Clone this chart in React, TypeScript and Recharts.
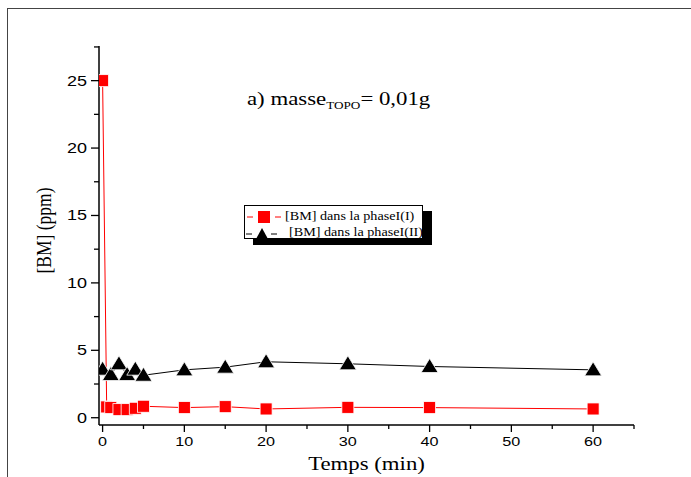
import { LineChart, Line, XAxis, YAxis } from "recharts";

// [BM] in phase I (red squares) and phase II (black triangles), ppm vs minutes
const TIME_I = [0, 0.5, 1, 2, 3, 4, 5, 10, 15, 20, 30, 40, 60];
const BM_I = [25, 0.8, 0.75, 0.6, 0.6, 0.7, 0.85, 0.75, 0.82, 0.65, 0.77, 0.75, 0.65];
const TIME_II = [0, 1, 2, 3, 4, 5, 10, 15, 20, 30, 40, 60];
const BM_II = [3.6, 3.2, 4.0, 3.2, 3.6, 3.15, 3.55, 3.75, 4.15, 4.0, 3.8, 3.55];

const X_MAJOR = [0, 10, 20, 30, 40, 50, 60];
const X_MINOR = [5, 15, 25, 35, 45, 55, 65];
const Y_MAJOR = [0, 5, 10, 15, 20, 25];
const Y_MINOR = [2.5, 7.5, 12.5, 17.5, 22.5, 27.5];

const SERIES_NAMES = ["[BM] dans la phaseI(I)", "[BM] dans la phaseI(II)"];

const phaseI = TIME_I.map((t, i) => ({ t, bm: BM_I[i] }));
const phaseII = TIME_II.map((t, i) => ({ t, bm: BM_II[i] }));

const SANS = "'Liberation Sans', Arial, sans-serif";
const SERIF = "'Liberation Serif', 'Times New Roman', serif";
const RED = "#ff0000";
const STRETCH = 1.2; // the original picture is a bit wider than tall

function XTick({ x, y, payload }: any) {
  const major = X_MAJOR.includes(payload.value);
  return (
    <g>
      <line x1={x} x2={x} y1={y} y2={y + (major ? 7 : 4)} stroke="#000" strokeWidth={1.3} />
      {major && (
        <text
          transform={`translate(${x} ${y + 21}) scale(${STRETCH} 1)`}
          textAnchor="middle"
          fontFamily={SANS}
          fontSize={13.5}
          fill="#000"
        >
          {payload.value}
        </text>
      )}
    </g>
  );
}

function YTick({ x, y, payload }: any) {
  const major = Y_MAJOR.includes(payload.value);
  return (
    <g>
      <line x1={x} x2={x - (major ? 8 : 5)} y1={y} y2={y} stroke="#000" strokeWidth={1.3} />
      {major && (
        <text
          transform={`translate(${x - 12} ${y + 5}) scale(${STRETCH} 1)`}
          textAnchor="end"
          fontFamily={SANS}
          fontSize={15}
          fill="#000"
        >
          {payload.value}
        </text>
      )}
    </g>
  );
}

function SquareDot({ cx, cy, index }: any) {
  return <rect key={`sq-${index}`} x={cx - 6} y={cy - 6} width={12} height={12} fill={RED} stroke="#fff" strokeWidth={0.8} />;
}

function TriangleDot({ cx, cy, index }: any) {
  const pts = `${cx},${cy - 8} ${cx - 8.5},${cy + 6} ${cx + 8.5},${cy + 6}`;
  return <polygon key={`tr-${index}`} points={pts} fill="#000" stroke="#fff" strokeWidth={0.8} />;
}

const stretched = { display: "inline-block", transform: `scaleX(${STRETCH})`, transformOrigin: "left center" } as const;

function LegendBox() {
  return (
    <div
      style={{
        position: "absolute",
        left: 244,
        top: 205,
        background: "#fff",
        border: "1px solid #000",
        boxShadow: "9px 6px 0 #000",
        width: 177,
        height: 32,
        fontFamily: SERIF,
        fontSize: 11.8,
        color: "#000",
      }}
    >
      <div style={{ position: "absolute", left: 1, top: 3, display: "flex", alignItems: "center", whiteSpace: "nowrap" }}>
        <svg width={36} height={14}>
          <line x1={1} x2={7} y1={7} y2={7} stroke={RED} />
          <rect x={12} y={1} width={12} height={12} fill={RED} />
          <line x1={29} x2={35} y1={7} y2={7} stroke={RED} />
        </svg>
        <span style={{ ...stretched, marginLeft: 3 }}>{SERIES_NAMES[0]}</span>
      </div>
      <div style={{ position: "absolute", left: 1, top: 19, display: "flex", alignItems: "center", whiteSpace: "nowrap" }}>
        <svg width={36} height={14}>
          <line x1={0} x2={6} y1={8} y2={8} stroke="#000" />
          <polygon points="16,2 10,13 22,13" fill="#000" />
          <line x1={25} x2={31} y1={8} y2={8} stroke="#000" />
        </svg>
        <span style={{ ...stretched, marginLeft: 7 }}>{SERIES_NAMES[1]}</span>
      </div>
    </div>
  );
}

export default function App() {
  return (
    <div style={{ position: "absolute", left: 0, top: 0, width: 691, height: 477, background: "#fff" }}>
      <div
        style={{
          position: "absolute",
          left: 7,
          top: 8,
          right: 0,
          bottom: 0,
          borderTop: "1.5px solid #444",
          borderLeft: "1.5px solid #444",
        }}
      />
      <LineChart width={691} height={477} margin={{ top: 46, right: 57, left: 39, bottom: 22 }}>
        <XAxis
          type="number"
          dataKey="t"
          domain={[-0.44, 65]}
          ticks={[...X_MAJOR, ...X_MINOR].sort((a, b) => a - b)}
          interval={0}
          tick={<XTick />}
          tickLine={false}
          tickSize={0}
          tickMargin={0}
          height={30}
          allowDataOverflow
          axisLine={{ stroke: "#000", strokeWidth: 1.5 }}
          label={{
            content: ({ viewBox }: any) => {
              const cx = viewBox.x + viewBox.width / 2;
              const cy = viewBox.y + 45;
              return (
                <text
                  transform={`translate(${cx} ${cy}) scale(${STRETCH} 1)`}
                  textAnchor="middle"
                  fontFamily={SERIF}
                  fontSize={19}
                  fill="#000"
                >
                  Temps (min)
                </text>
              );
            },
          }}
        />
        <YAxis
          type="number"
          domain={[-0.54, 27.57]}
          ticks={[...Y_MAJOR, ...Y_MINOR].sort((a, b) => a - b)}
          interval={0}
          tick={<YTick />}
          tickLine={false}
          tickSize={0}
          tickMargin={0}
          width={60}
          allowDataOverflow
          axisLine={{ stroke: "#000", strokeWidth: 1.5 }}
          label={{
            content: ({ viewBox }: any) => {
              const cx = viewBox.x + 5;
              const cy = viewBox.y + viewBox.height / 2 - 5;
              return (
                <text
                  transform={`translate(${cx} ${cy}) rotate(-90) scale(1 ${STRETCH})`}
                  textAnchor="middle"
                  dominantBaseline="central"
                  fontFamily={SERIF}
                  fontSize={17.5}
                  fill="#000"
                >
                  [BM] (ppm)
                </text>
              );
            },
          }}
        />
        <Line
          data={phaseI}
          dataKey="bm"
          name={SERIES_NAMES[0]}
          type="linear"
          stroke={RED}
          strokeWidth={1}
          dot={SquareDot}
          activeDot={false}
          isAnimationActive={false}
        />
        <Line
          data={phaseII}
          dataKey="bm"
          name={SERIES_NAMES[1]}
          type="linear"
          stroke="#000"
          strokeWidth={1}
          dot={TriangleDot}
          activeDot={false}
          isAnimationActive={false}
        />
      </LineChart>
      <LegendBox />
      <div
        style={{
          position: "absolute",
          left: 247,
          top: 89,
          fontFamily: SERIF,
          fontSize: 19,
          lineHeight: "19px",
          color: "#000",
          whiteSpace: "nowrap",
          ...stretched,
        }}
      >
        a) masse<span style={{ fontSize: 11, position: "relative", top: 4 }}>TOPO</span>= 0,01g
      </div>
    </div>
  );
}
